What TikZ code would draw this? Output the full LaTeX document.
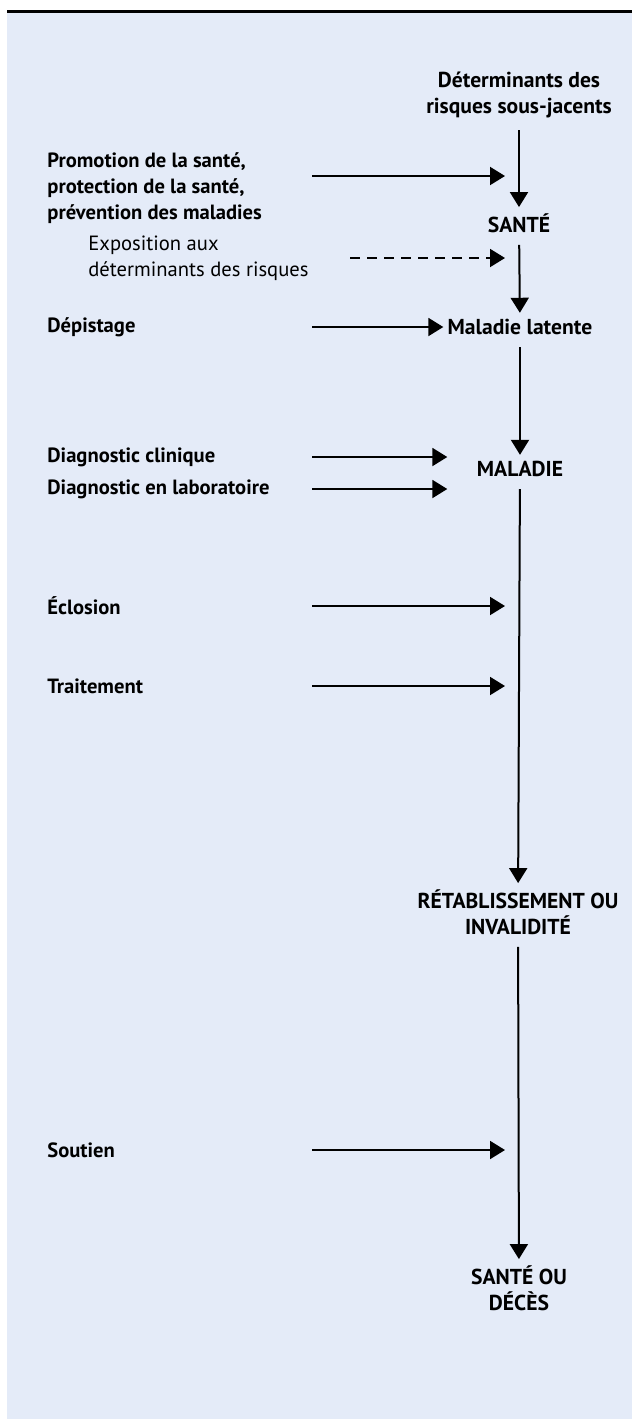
\documentclass[tikz,border=0pt]{standalone}
\usepackage{fontspec}
\setmainfont{PT Sans}
\usepackage{tikz}
\usetikzlibrary{arrows.meta,positioning,calc}
\definecolor{panel}{HTML}{E4EBF8}

\begin{document}
\begin{tikzpicture}[x=0.5pt, y=-0.5pt,
    cause/.style={anchor=west, align=left, inner sep=0pt, font=\bfseries\fontsize{10.3}{13}\selectfont},
    expo/.style={anchor=west, align=left, inner sep=0pt, font=\fontsize{10.3}{13}\selectfont},
    stage/.style={align=center, inner sep=0pt, font=\bfseries\fontsize{10.8}{13}\selectfont},
    flow/.style={-{Triangle[length=7.5pt,width=9pt]}, line width=1pt},
    down/.style={flow, shorten <=6pt, shorten >=3pt}]
    \useasboundingbox (0,0) rectangle (632,1420);
    \fill[panel] (7,12) rectangle (632,1419);
    \draw[line width=1.5pt] (7,11) -- (632,11);
    % main column
    \node [stage] (det) at (519,95) {Déterminants des\\risques sous-jacents};
    \node [stage] (sante) at (519,223) {SANTÉ};
    \node [stage] (latente) at (520,327) {Maladie latente};
    \node [stage] (maladie) at (520,469) {MALADIE};
    \node [stage] (retab) at (518,912) {RÉTABLISSEMENT OU\\INVALIDITÉ};
    \node [stage] (issue) at (519,1288) {SANTÉ OU\\DÉCÈS};
    \draw [down] (det) -- (sante);
    \draw [down] (sante) -- (latente);
    \draw [down] (latente) -- (maladie);
    \draw [down] (maladie) -- (retab);
    \draw [down] (retab) -- (issue);
    % interventions on the left
    \coordinate (from) at (312,0);
    \coordinate (spine) at (505,0);
    \node [cause] (promo) at (47,188) {Promotion de la santé,\\protection de la santé,\\prévention des maladies};
    \node [expo] (expos) at (88,258) {Exposition aux\\déterminants des risques};
    \node [cause] (depist) at (47,327) {Dépistage};
    \node [cause] (diagc) at (47,457) {Diagnostic clinique};
    \node [cause] (diagl) at (47,489) {Diagnostic en laboratoire};
    \node [cause] (eclos) at (47,606) {Éclosion};
    \node [cause] (trait) at (47,686) {Traitement};
    \node [cause] (sout) at (47,1150) {Soutien};
    \coordinate (promoA) at (312,176);
    \coordinate (promoB) at (505,176);
    \coordinate (exposA) at (350,258);
    \draw [flow] (promoA) -- (promoB);
    \draw [flow, dashed, dash pattern=on 5pt off 3.5pt] (exposA) -- (expos -| spine);
    \draw [flow, shorten >=2pt] (depist -| from) -- (latente.west);
    \draw [flow] (diagc -| from) -- (diagc -| latente.west);
    \draw [flow] (diagl -| from) -- (diagl -| latente.west);
    \draw [flow] (eclos -| from) -- (eclos -| spine);
    \draw [flow] (trait -| from) -- (trait -| spine);
    \draw [flow] (sout -| from) -- (sout -| spine);
\end{tikzpicture}
\end{document}
